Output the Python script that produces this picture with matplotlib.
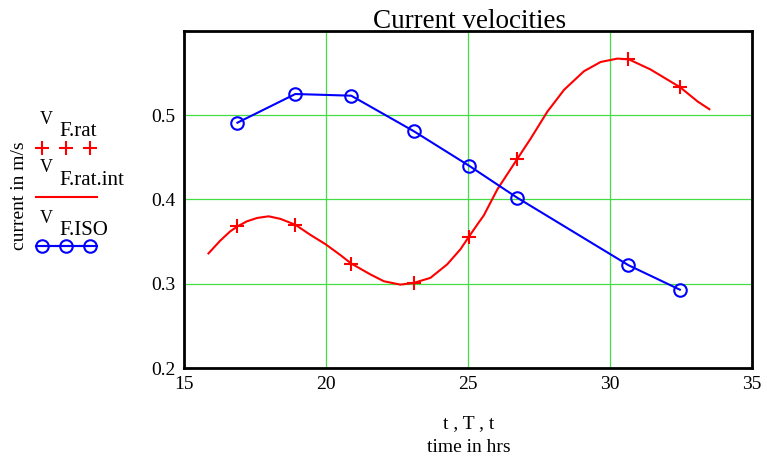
import matplotlib
matplotlib.use("Agg")
import matplotlib.pyplot as plt
from matplotlib.lines import Line2D

plt.rcParams['font.family'] = ['Liberation Serif', 'DejaVu Serif']

# sample times (hrs)
t = [16.88, 18.92, 20.89, 23.09, 25.04, 26.74, 30.66, 32.47]
# ISO velocities
v_iso = [0.491, 0.525, 0.523, 0.481, 0.440, 0.402, 0.322, 0.293]
# rational velocities
v_rat = [0.368, 0.370, 0.324, 0.301, 0.356, 0.448, 0.566, 0.533]
# interpolated rational curve
T = [15.86, 16.27, 16.62, 16.88, 17.21, 17.57, 17.98, 18.39, 18.92, 19.45,
     19.98, 20.51, 20.89, 21.57, 22.04, 22.62, 23.09, 23.68, 24.27, 24.74,
     25.04, 25.39, 25.56, 26.04, 26.74, 27.21, 27.80, 28.39, 29.09, 29.68,
     30.27, 30.68, 31.44, 32.48, 33.10, 33.51]
v_rat_int = [0.336, 0.351, 0.362, 0.368, 0.374, 0.378, 0.380, 0.377, 0.370, 0.358,
             0.347, 0.334, 0.324, 0.311, 0.303, 0.299, 0.301, 0.307, 0.323, 0.341,
             0.356, 0.373, 0.381, 0.412, 0.448, 0.472, 0.504, 0.530, 0.552, 0.563,
             0.567, 0.566, 0.554, 0.533, 0.516, 0.507]

fig = plt.figure(figsize=(7.67, 4.59), dpi=100)
ax = fig.add_axes([0.240, 0.198, 0.740, 0.735])

ax.plot(T, v_rat_int, color='red', lw=1.5, zorder=3)
ax.plot(t, v_rat, ls='none', marker='+', ms=10, mew=1.5, color='red', zorder=4)
ax.plot(t, v_iso, color='blue', lw=1.5, marker='o', ms=9, mfc='none', mew=1.5, zorder=4)

ax.set_xlim(15, 35)
ax.set_ylim(0.2, 0.6)
ax.set_xticks([15, 20, 25, 30, 35])
ax.set_yticks([0.2, 0.3, 0.4, 0.5])
ax.set_yticklabels(['0.2', '0.3', '0.4', '0.5'])
ax.tick_params(length=0, labelsize=14, pad=6)
ax.grid(True, color='#44dd44', lw=0.9)
for s in ax.spines.values():
    s.set_linewidth(2)

# title sits right on the top frame, like Mathcad does it
fig.text(0.612, 0.940, 'Current velocities', ha='center', va='baseline', fontsize=19.5)
fig.text(0.611, 0.078, 't , T , t', ha='center', va='center', fontsize=14)
fig.text(0.611, 0.026, 'time in hrs', ha='center', va='center', fontsize=14)
fig.text(0.025, 0.573, 'current in m/s', rotation=90, ha='center', va='center', fontsize=14)

# legend drawn by hand, Mathcad style
def label(y, sub):
    fig.text(0.052, y, 'V', fontsize=13)
    fig.text(0.077, y - 0.027, sub, fontsize=15)

label(0.73, 'F.rat')
fig.add_artist(Line2D([0.055, 0.086, 0.117], [0.677] * 3, transform=fig.transFigure,
                      ls='none', marker='+', ms=10, mew=1.5, color='red'))
label(0.625, 'F.rat.int')
fig.add_artist(Line2D([0.047, 0.126], [0.571] * 2, transform=fig.transFigure,
                      color='red', lw=1.5))
label(0.515, 'F.ISO')
fig.add_artist(Line2D([0.055, 0.086, 0.117], [0.464] * 3, transform=fig.transFigure,
                      color='blue', lw=1.5, marker='o', ms=9, mfc='none', mew=1.5))
fig.add_artist(Line2D([0.047, 0.126], [0.464] * 2, transform=fig.transFigure,
                      color='blue', lw=1.5))

fig.savefig('out.png', dpi=100)
